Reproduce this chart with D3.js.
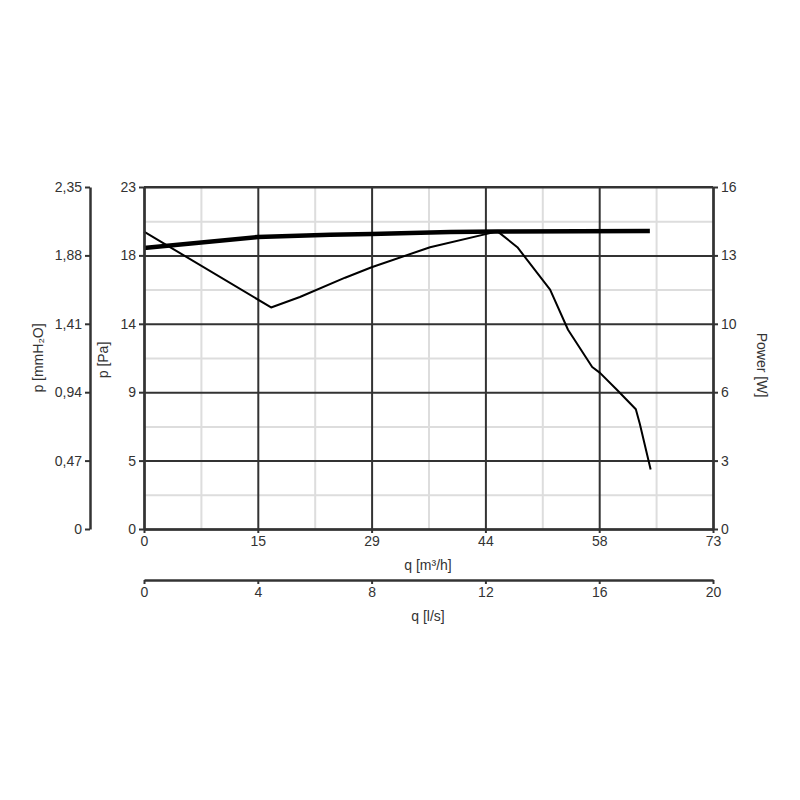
<!DOCTYPE html>
<html lang="en">
<head>
<meta charset="UTF-8">
<title>Fan curve</title>
<script src="https://d3js.org/d3.v7.min.js"></script>
<style>
  body { margin: 0; padding: 0; background: #fff; }
  text { font-family: "Liberation Sans", Arial, sans-serif; font-size: 14px; fill: #333; }
</style>
</head>
<body>
<div id="chart"></div>
<script>
// tick labels (axes are evenly divided into 5 steps, labels rounded)
const mmTicks = ["0", "0,47", "0,94", "1,41", "1,88", "2,35"];
const paTicks = ["0", "5", "9", "14", "18", "23"];
const wTicks = ["0", "3", "6", "10", "13", "16"];
const qmTicks = ["0", "15", "29", "44", "58", "73"];
const qlTicks = ["0", "4", "8", "12", "16", "20"];

// pressure curve, q [m3/h] -> p [Pa]
const pressQ = [0, 16.3, 20.0, 25.8, 29.2, 36.7, 44.8, 45.4, 47.9, 52.1, 54.4, 57.5, 58.5, 60.7, 63.1, 63.6, 65.0];
const pressP = [20.0, 14.9, 15.6, 16.9, 17.6, 18.95, 19.95, 20.0, 18.95, 16.1, 13.4, 10.9, 10.5, 9.35, 8.05, 7.1, 4.0];

// power curve, q [m3/h] -> W
const powQ = [0, 14.6, 23.9, 29.2, 39.3, 45.4, 64.9];
const powW = [13.15, 13.66, 13.77, 13.8, 13.9, 13.92, 13.94];

const W = 800, H = 800;
const pL = 144, pR = 713, pT = 187, pB = 529;

const svg = d3.select("#chart").append("svg")
    .attr("width", W).attr("height", H);

const x = d3.scaleLinear().domain([0, 73]).range([pL, pR]);
const xl = d3.scaleLinear().domain([0, 20]).range([pL, pR]);
const yPa = d3.scaleLinear().domain([0, 23]).range([pB, pT]);
const yW = d3.scaleLinear().domain([0, 16]).range([pB, pT]);
const yMm = d3.scaleLinear().domain([0, 2.35]).range([pB, pT]);

const steps = (max, n) => d3.range(n + 1).map(i => max * i / n);
const halves = max => d3.range(5).map(i => max * (i + 0.5) / 5);

// minor grid
svg.append("g")
    .attr("transform", `translate(0,${pB})`)
    .call(d3.axisBottom(x).tickValues(halves(73)).tickSize(pT - pB).tickFormat(""))
    .call(g => g.select(".domain").remove())
    .call(g => g.selectAll("line").attr("stroke", "#ddd").attr("stroke-width", 2));
svg.append("g")
    .attr("transform", `translate(${pL},0)`)
    .call(d3.axisLeft(yPa).tickValues(halves(23)).tickSize(pL - pR).tickFormat(""))
    .call(g => g.select(".domain").remove())
    .call(g => g.selectAll("line").attr("stroke", "#ddd").attr("stroke-width", 2));

// major grid
svg.append("g")
    .attr("transform", `translate(0,${pB})`)
    .call(d3.axisBottom(x).tickValues(steps(73, 5)).tickSize(pT - pB).tickFormat(""))
    .call(g => g.select(".domain").remove())
    .call(g => g.selectAll("line").attr("stroke", "#333").attr("stroke-width", 2));
svg.append("g")
    .attr("transform", `translate(${pL},0)`)
    .call(d3.axisLeft(yPa).tickValues(steps(23, 5)).tickSize(pL - pR).tickFormat(""))
    .call(g => g.select(".domain").remove())
    .call(g => g.selectAll("line").attr("stroke", "#333").attr("stroke-width", 2));

// curves
const powLine = d3.line().x(d => x(d[0])).y(d => yW(d[1]));
svg.append("path")
    .datum(d3.zip(powQ, powW))
    .attr("d", powLine)
    .attr("fill", "none").attr("stroke", "#000").attr("stroke-width", 4.5);

const pressLine = d3.line().x(d => x(d[0])).y(d => yPa(d[1]));
svg.append("path")
    .datum(d3.zip(pressQ, pressP))
    .attr("d", pressLine)
    .attr("fill", "none").attr("stroke", "#000").attr("stroke-width", 2)
    .attr("stroke-linejoin", "round");

function styleAxis(g) {
  g.select(".domain").attr("stroke", "#333").attr("stroke-width", 2.5);
  g.selectAll(".tick line").attr("stroke", "#333").attr("stroke-width", 2);
  g.selectAll(".tick text").attr("fill", "#333")
    .style("font-family", '"Liberation Sans", Arial, sans-serif').style("font-size", "14px");
}

// left mmH2O axis
svg.append("g")
    .attr("transform", "translate(90,0)")
    .call(d3.axisLeft(yMm).tickValues(steps(2.35, 5)).tickSize(5).tickSizeOuter(0)
      .tickFormat((d, i) => mmTicks[i]))
    .call(styleAxis);

// Pa axis
svg.append("g")
    .attr("transform", `translate(${pL},0)`)
    .call(d3.axisLeft(yPa).tickValues(steps(23, 5)).tickSize(5).tickSizeOuter(0)
      .tickFormat((d, i) => paTicks[i]))
    .call(styleAxis);

// power axis
svg.append("g")
    .attr("transform", `translate(${pR},0)`)
    .call(d3.axisRight(yW).tickValues(steps(16, 5)).tickSize(5).tickSizeOuter(0)
      .tickFormat((d, i) => wTicks[i]))
    .call(styleAxis);

// top border
svg.append("line")
    .attr("x1", pL).attr("x2", pR).attr("y1", pT).attr("y2", pT)
    .attr("stroke", "#333").attr("stroke-width", 2);

// q m3/h axis
svg.append("g")
    .attr("transform", `translate(0,${pB})`)
    .call(d3.axisBottom(x).tickValues(steps(73, 5)).tickSize(4).tickSizeOuter(0).tickPadding(3)
      .tickFormat((d, i) => qmTicks[i]))
    .call(styleAxis);

// q l/s axis
svg.append("g")
    .attr("transform", "translate(0,580)")
    .call(d3.axisBottom(xl).tickValues(steps(20, 5)).tickSize(4).tickSizeOuter(0).tickPadding(3)
      .tickFormat((d, i) => qlTicks[i]))
    .call(styleAxis);

// axis titles
svg.append("text").attr("transform", "translate(43,358) rotate(-90)")
    .attr("text-anchor", "middle").text("p [mmH\u2082O]");
svg.append("text").attr("transform", "translate(108,360) rotate(-90)")
    .attr("text-anchor", "middle").text("p [Pa]");
svg.append("text").attr("transform", "translate(757,365) rotate(90)")
    .attr("text-anchor", "middle").text("Power [W]");
svg.append("text").attr("x", 428).attr("y", 570)
    .attr("text-anchor", "middle").text("q [m\u00b3/h]");
svg.append("text").attr("x", 428).attr("y", 621)
    .attr("text-anchor", "middle").text("q [l/s]");
</script>
</body>
</html>
